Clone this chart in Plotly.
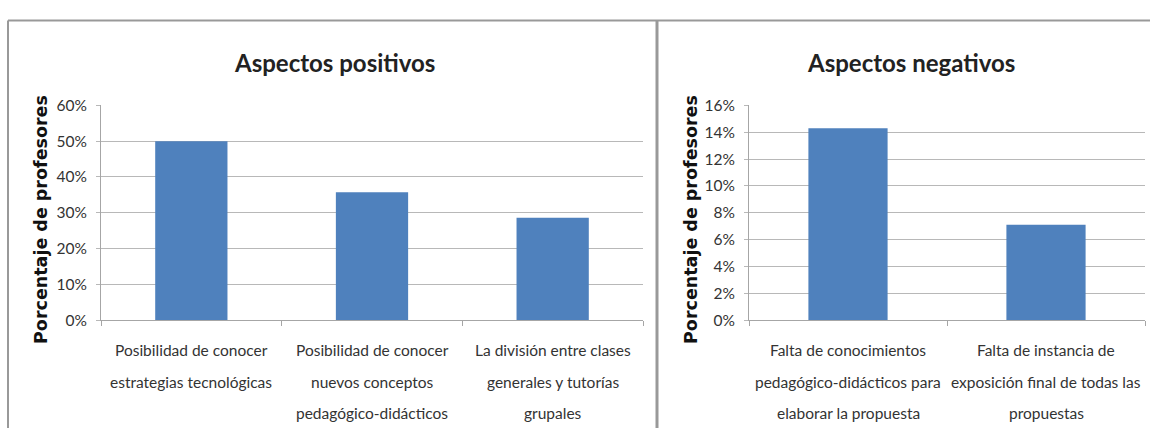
import plotly.graph_objects as go

W, H = 1150, 436

# ---- data ----
pos_labels = [
    "Posibilidad de conocer<br>estrategias tecnológicas",
    "Posibilidad de conocer<br>nuevos conceptos<br>pedagógico-didácticos",
    "La división entre clases<br>generales y tutorías<br>grupales",
]
pos_values = [0.50, 0.357, 0.286]

neg_labels = [
    "Falta de conocimientos<br>pedagógico-didácticos para<br>elaborar la propuesta",
    "Falta de instancia de<br>exposición final de todas las<br>propuestas",
]
neg_values = [0.143, 0.071]

pos_title = "Aspectos positivos"
neg_title = "Aspectos negativos"
y_title = "Porcentaje de profesores"

pos_yticks = [0, 0.1, 0.2, 0.3, 0.4, 0.5, 0.6]
neg_yticks = [0, 0.02, 0.04, 0.06, 0.08, 0.10, 0.12, 0.14, 0.16]

# ---- styling ----
BAR = "#4f81bd"
GRID = "#b8b8b8"
AXIS = "#a6a6a6"
TXT = "#333333"
LABEL_FONT = "Lato"


def px(x):
    return x / W


def py(y):
    return 1 - y / H


def key(s):
    return s.replace("<br>", " ")


fig = go.Figure()
fig.add_bar(x=[key(s) for s in pos_labels], y=pos_values, marker_color=BAR,
            marker_line_width=0, xaxis="x", yaxis="y", showlegend=False)
fig.add_bar(x=[key(s) for s in neg_labels], y=neg_values, marker_color=BAR,
            marker_line_width=0, xaxis="x2", yaxis="y2", showlegend=False)

top, bottom = 99.5, 323.5
common_x = dict(type="category", showgrid=False, showline=True, linecolor=AXIS,
                linewidth=1, ticks="outside", tickson="boundaries", ticklen=5,
                tickcolor=AXIS, showticklabels=False, zeroline=False)
common_y = dict(showgrid=True, gridcolor=GRID, gridwidth=1, showline=True,
                linecolor=AXIS, linewidth=1, ticks="outside", ticklen=4,
                tickcolor=GRID, tickformat=".0%", zeroline=False,
                tickfont=dict(family=LABEL_FONT, size=15.5, color=TXT),
                ticklabelstandoff=6)

fig.update_layout(
    width=W, height=H, margin=dict(l=0, r=0, t=0, b=0),
    paper_bgcolor="white", plot_bgcolor="white", bargap=0.6,
    xaxis=dict(domain=[px(101), px(643)], anchor="y", **common_x),
    yaxis=dict(domain=[py(bottom), py(top)], anchor="x", range=[0, 0.6],
               tickvals=pos_yticks, **common_y),
    xaxis2=dict(domain=[px(749), px(1145)], anchor="y2", **common_x),
    yaxis2=dict(domain=[py(bottom), py(top)], anchor="x2", range=[0, 0.16],
                tickvals=neg_yticks, **common_y),
)

ann = []
# titles
for t, xc in ((pos_title, 334), (neg_title, 911)):
    ann.append(dict(text=t, x=px(xc), y=py(55), xref="paper", yref="paper",
                    showarrow=False, xanchor="center", yanchor="middle",
                    font=dict(family=LABEL_FONT, size=24, color="#222222", weight="bold")))
# y axis titles
for xc in (41, 691):
    ann.append(dict(text=y_title, x=px(xc), y=py(219), xref="paper", yref="paper",
                    showarrow=False, textangle=-90, xanchor="center", yanchor="middle",
                    font=dict(family="DejaVu Sans", size=17.5, color="#111111", weight="bold")))
# category labels, one line at a time
line_y = [355, 388, 420]
for labels, xref in ((pos_labels, "x"), (neg_labels, "x2")):
    for lab in labels:
        for i, line in enumerate(lab.split("<br>")):
            ann.append(dict(text=line, x=key(lab), y=py(line_y[i]), xref=xref,
                            yref="paper", showarrow=False, xanchor="center",
                            yanchor="middle",
                            font=dict(family=LABEL_FONT, size=15.5, color=TXT)))
fig.update_layout(annotations=ann)

# frame lines
FR = "#999999"
fig.update_layout(shapes=[
    dict(type="line", xref="paper", yref="paper", x0=px(8), x1=1, y0=py(11), y1=py(11),
         line=dict(color=FR, width=2)),
    dict(type="line", xref="paper", yref="paper", x0=px(8), x1=px(8), y0=py(11), y1=0,
         line=dict(color=FR, width=2)),
    dict(type="line", xref="paper", yref="paper", x0=px(657), x1=px(657), y0=py(11), y1=0,
         line=dict(color=FR, width=3)),
])

fig.write_html("out.html")
